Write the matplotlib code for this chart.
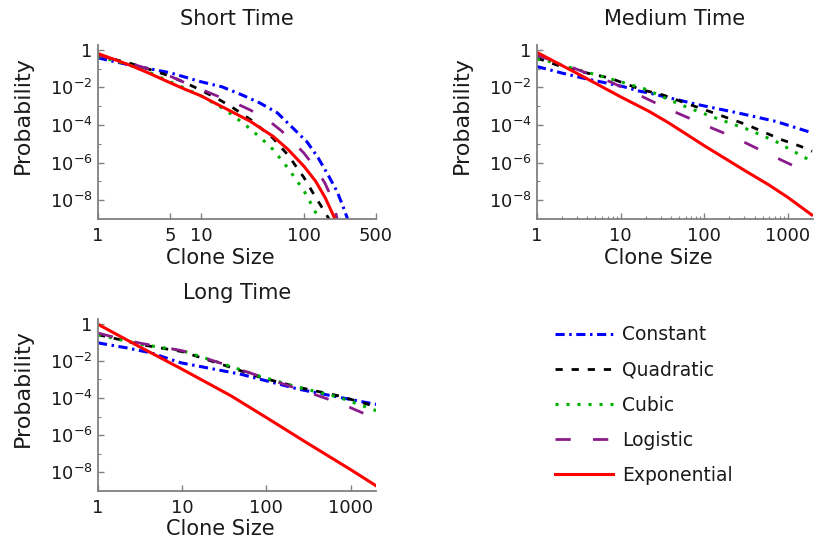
import numpy as np
import matplotlib
matplotlib.use("Agg")
import matplotlib.pyplot as plt
from matplotlib.ticker import FixedLocator, NullFormatter, FixedFormatter
from matplotlib.lines import Line2D

plt.rcParams['font.family'] = ['DejaVu Sans']
plt.rcParams['mathtext.fontset'] = 'dejavusans'

series_names = ["Constant", "Quadratic", "Cubic", "Logistic", "Exponential"]

# ---- Short time (x values, log10 probability) ----
short_const_x = [1, 2, 5, 10, 16, 25, 37, 55, 76, 107, 137, 171, 210, 240, 265]
short_const_y = [-0.43, -0.8, -1.22, -1.7, -1.97, -2.4, -2.82, -3.35, -4.1, -4.9, -5.74, -6.65, -7.55, -8.35, -9.0]
short_quad_x = [1, 2, 3, 5, 7, 10, 15, 20, 30, 50, 70, 100, 125, 150, 175]
short_quad_y = [-0.3, -0.7, -1.0, -1.4, -1.75, -2.15, -2.65, -3.05, -3.7, -4.7, -5.6, -6.8, -7.7, -8.4, -9.0]
short_cubic_x = [1, 2, 3, 5, 7, 10, 15, 20, 30, 40, 50, 70, 100, 120, 140]
short_cubic_y = [-0.35, -0.8, -1.15, -1.7, -2.05, -2.45, -3.0, -3.45, -4.2, -4.8, -5.3, -6.3, -7.5, -8.3, -9.0]
short_logis_x = [1, 2, 3, 5, 7, 10, 15, 20, 30, 45, 60, 80, 100, 130, 160, 190, 210]
short_logis_y = [-0.3, -0.7, -1.0, -1.4, -1.75, -2.1, -2.5, -2.75, -3.2, -3.75, -4.3, -4.95, -5.5, -6.3, -7.1, -8.0, -9.0]
short_expo_x = [1, 2, 3, 5, 7, 10, 15, 20, 30, 50, 70, 100, 130, 160, 200]
short_expo_y = [-0.2, -0.8, -1.2, -1.75, -2.1, -2.45, -2.95, -3.3, -3.8, -4.6, -5.3, -6.2, -7.0, -7.85, -9.0]

# ---- Medium time ----
med_const_x = [1, 2, 3.5, 6.8, 10.6, 16.8, 22, 87, 260, 720, 1900]
med_const_y = [-0.89, -1.24, -1.5, -1.77, -1.95, -2.2, -2.3, -2.93, -3.37, -3.81, -4.4]
med_quad_x = [1, 1.7, 3.25, 7.4, 18, 32, 53, 132, 324, 850, 1430, 1950]
med_quad_y = [-0.44, -0.8, -1.15, -1.5, -2.13, -2.4, -2.75, -3.37, -3.99, -4.79, -5.14, -5.4]
med_cubic_x = [1, 1.4, 4.3, 10, 20, 38, 66, 150, 345, 720, 1640, 1950]
med_cubic_y = [-0.5, -0.62, -1.24, -1.7, -2.1, -2.66, -3.1, -3.69, -4.26, -4.88, -5.76, -5.9]
med_logis_x = [1, 1.9, 3.5, 7.4, 18, 35, 100, 240, 560, 1350, 1950]
med_logis_y = [-0.3, -0.71, -1.15, -1.69, -2.48, -3.1, -3.99, -4.7, -5.5, -6.3, -6.6]
med_expo_x = [1, 3, 10, 22, 38, 100, 300, 600, 1000, 1930]
med_expo_y = [-0.14, -1.25, -2.5, -3.28, -3.9, -5.1, -6.4, -7.2, -7.85, -8.78]

# ---- Long time ----
long_const_x = [1, 2.2, 4.2, 9.6, 31, 50, 240, 600, 1500, 2100]
long_const_y = [-1.03, -1.3, -1.56, -2.1, -2.54, -2.72, -3.52, -3.88, -4.23, -4.35]
long_quad_x = [1, 1.8, 3.2, 10, 30, 87, 240, 720, 1800, 2100]
long_quad_y = [-0.59, -0.85, -1.12, -1.5, -2.2, -2.9, -3.42, -3.88, -4.4, -4.5]
long_cubic_x = [1, 1.8, 3.2, 10, 30, 87, 240, 720, 1800, 2100]
long_cubic_y = [-0.6, -0.85, -1.1, -1.45, -2.15, -2.85, -3.42, -3.95, -4.6, -4.7]
long_logis_x = [1, 1.8, 3.2, 10, 30, 87, 320, 790, 2100]
long_logis_y = [-0.5, -0.8, -1.05, -1.45, -2.15, -2.85, -3.7, -4.32, -5.15]
long_expo_x = [1, 3, 10, 38, 100, 300, 1000, 2140]
long_expo_y = [-0.03, -1.2, -2.45, -3.88, -5.05, -6.4, -7.85, -8.8]

short_xticks = [1, 5, 10, 100, 500]
long_xticks = [1, 10, 100, 1000]
ytick_vals = [1, 1e-2, 1e-4, 1e-6, 1e-8]
ytick_labels = ["1", r"$10^{-2}$", r"$10^{-4}$", r"$10^{-6}$", r"$10^{-8}$"]

styles = {
    "Constant": dict(color="#0000ff", lw=2.2, dashes=(3.0, 1.5, 0.8, 1.5)),
    "Quadratic": dict(color="#000000", lw=2.0, dashes=(2.6, 3.2)),
    "Cubic": dict(color="#00b000", lw=2.2, dashes=(1.0, 2.6)),
    "Logistic": dict(color="#8b1a8b", lw=2.0, dashes=(5.5, 8.0)),
    "Exponential": dict(color="#ff0000", lw=2.2),
}

W, H = 814, 546
fig = plt.figure(figsize=(W / 100, H / 100), dpi=100)

def ax_rect(l, r, t, b):
    return [l / W, 1 - b / H, (r - l) / W, (b - t) / H]

panels = [
    ("Short Time", ax_rect(98, 376, 45, 219), (1, 500), short_xticks, False,
     [(short_const_x, short_const_y), (short_quad_x, short_quad_y), (short_cubic_x, short_cubic_y),
      (short_logis_x, short_logis_y), (short_expo_x, short_expo_y)]),
    ("Medium Time", ax_rect(537, 813, 45, 219), (1, 2000), long_xticks, True,
     [(med_const_x, med_const_y), (med_quad_x, med_quad_y), (med_cubic_x, med_cubic_y),
      (med_logis_x, med_logis_y), (med_expo_x, med_expo_y)]),
    ("Long Time", ax_rect(98, 376, 319, 491), (1, 2000), long_xticks, False,
     [(long_const_x, long_const_y), (long_quad_x, long_quad_y), (long_cubic_x, long_cubic_y),
      (long_logis_x, long_logis_y), (long_expo_x, long_expo_y)]),
]

text_color = "#1a1a1a"
spine_color = "#808080"

for title, rect, xlim, xt, minor_x, data in panels:
    ax = fig.add_axes(rect)
    for name, (xs, ys) in zip(series_names, data):
        ax.plot(xs, np.power(10.0, ys), **styles[name], clip_on=True)
    ax.set_xscale("log")
    ax.set_yscale("log")
    ax.set_xlim(*xlim)
    ax.set_ylim(1e-9, 1.8)
    for s in ["top", "right"]:
        ax.spines[s].set_visible(False)
    for s in ["left", "bottom"]:
        ax.spines[s].set_color(spine_color)
        ax.spines[s].set_linewidth(1.3)
    ax.xaxis.set_major_locator(FixedLocator(xt))
    ax.xaxis.set_major_formatter(FixedFormatter([str(v) for v in xt]))
    if minor_x:
        mins = [m * 10 ** d for d in range(0, 4) for m in range(2, 10) if m * 10 ** d < xlim[1]]
        ax.xaxis.set_minor_locator(FixedLocator(mins))
    else:
        ax.xaxis.set_minor_locator(FixedLocator([]))
    ax.xaxis.set_minor_formatter(NullFormatter())
    ax.yaxis.set_major_locator(FixedLocator(ytick_vals))
    ax.yaxis.set_major_formatter(FixedFormatter(ytick_labels))
    ax.yaxis.set_minor_locator(FixedLocator([1e-1, 1e-3, 1e-5, 1e-7]))
    ax.yaxis.set_minor_formatter(NullFormatter())
    ax.tick_params(which="both", direction="in", color=spine_color, labelcolor=text_color,
                   labelsize=13)
    ax.tick_params(axis="x", which="both", pad=6)
    ax.tick_params(axis="y", which="both", pad=4)
    ax.tick_params(which="major", length=4, width=1)
    ax.tick_params(which="minor", length=2.5, width=0.8)
    ax.set_xlabel("Clone Size", fontsize=15, color=text_color, va="top")
    ax.xaxis.set_label_coords(0.44, -0.165)
    ax.set_ylabel("Probability", fontsize=16, color=text_color)
    ax.yaxis.set_label_coords(-0.235, 0.6)
    ax.set_title(title, fontsize=15, color=text_color, pad=14.5)

handles = [Line2D([], [], **styles[n]) for n in series_names]
fig.legend(handles, series_names, loc="upper left", bbox_to_anchor=(547 / W, 1 - 318 / H),
           borderaxespad=0, frameon=False, fontsize=13.5, handlelength=3.1, handletextpad=0.5,
           labelspacing=0.86, labelcolor=text_color)

fig.savefig("out.png", dpi=100)
